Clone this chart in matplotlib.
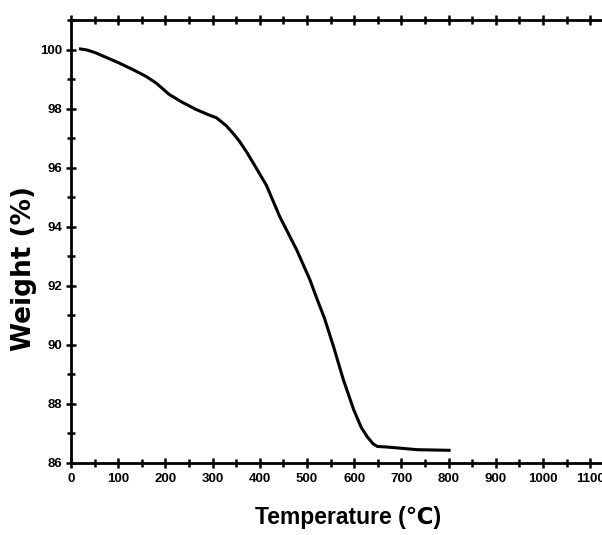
import matplotlib
matplotlib.use("Agg")
import matplotlib.pyplot as plt
from matplotlib.ticker import MultipleLocator

temperature = [20, 35, 52, 75, 101, 130, 158, 180, 208, 235, 265, 290, 308, 329, 345, 357,
               372, 386, 414, 442, 478, 506, 521, 537, 556, 577, 599, 615, 627, 640,
               649, 670, 734, 801]
weight = [100.02, 99.98, 99.89, 99.73, 99.55, 99.33, 99.10, 98.87, 98.48, 98.22, 97.97,
          97.80, 97.69, 97.42, 97.13, 96.89, 96.53, 96.16, 95.40, 94.35, 93.22, 92.21,
          91.56, 90.90, 89.95, 88.82, 87.80, 87.20, 86.90, 86.65, 86.56, 86.54, 86.45, 86.43]

x_ticks = list(range(0, 1101, 100))
y_ticks = [86, 88, 90, 92, 94, 96, 98, 100]

plt.rcParams['font.family'] = ['Liberation Sans', 'DejaVu Sans']

fig = plt.figure(figsize=(6.02, 5.35), dpi=100)
ax = fig.add_axes([0.118, 0.1346, 0.882, 0.828])

ax.plot(temperature, weight, color='black', linewidth=2.2, solid_joinstyle='round')

ax.set_xlim(0, 1125)
ax.set_ylim(86, 101.0)
ax.set_xticks(x_ticks)
ax.set_yticks(y_ticks)
ax.xaxis.set_minor_locator(MultipleLocator(50))
ax.yaxis.set_minor_locator(MultipleLocator(1))
ax.set_xticklabels([str(t) for t in x_ticks], fontsize=9.5, fontweight='bold')
ax.set_yticklabels([str(t) for t in y_ticks], fontsize=9.5, fontweight='bold')

ax.tick_params(which='both', direction='inout', top=True, right=False, width=1.8)
ax.tick_params(which='major', length=7)
ax.tick_params(which='minor', length=6)
ax.tick_params(axis='x', which='both', pad=4)
ax.tick_params(axis='y', which='both', pad=3)

for side in ['left', 'bottom', 'top']:
    ax.spines[side].set_linewidth(2)
ax.spines['right'].set_visible(False)

ax.set_xlabel('Temperature (℃)', fontsize=16.5, fontweight='bold')
ax.xaxis.set_label_coords(0.522, -0.097)
ax.set_ylabel('Weight (%)', fontsize=19, fontweight='bold', family=['DejaVu Sans'])
ax.yaxis.set_label_coords(-0.064, 0.44)

fig.savefig('out.png', dpi=100)
